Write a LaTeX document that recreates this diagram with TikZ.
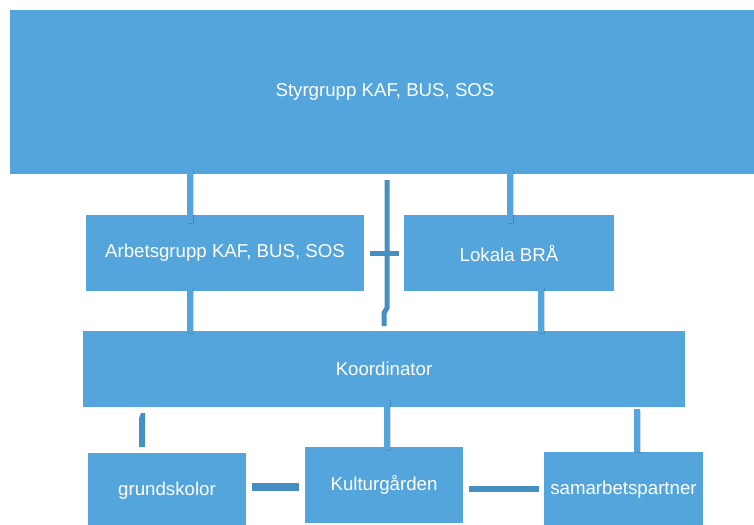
\documentclass[tikz,border=0pt]{standalone}
\usepackage{fontspec}
\setmainfont{Liberation Sans}
\usetikzlibrary{calc}
\definecolor{boxblue}{HTML}{53A5DC}
\definecolor{darkblue}{HTML}{468FC2}
\tikzset{
  box/.style={fill=boxblue, draw=none, text=white, font=\fontsize{14}{16}\selectfont, inner sep=0pt, align=center},
  lconn/.style={draw=boxblue, line width=4.5pt,
    preaction={draw=black, opacity=0.15, line width=4.5pt, transform canvas={shift={(1pt,-1pt)}}}},
  dconn/.style={draw=darkblue, line width=3.75pt},
}
\begin{document}
\begin{tikzpicture}[x=0.75pt,y=-0.75pt]
\useasboundingbox (0,0) rectangle (754,525);
\clip (0,0) rectangle (754,525);
% boxes
\node[box, minimum width=562.5pt, minimum height=123pt] (sty) at (385,92) {Styrgrupp KAF, BUS, SOS};
\node[box, minimum width=208.5pt, minimum height=57pt] (arb) at (225,253) {Arbetsgrupp KAF, BUS, SOS};
\node[box, minimum width=157.5pt, minimum height=57pt] (lok) at (509,253) {Lokala BRÅ};
\node[box, minimum width=451.5pt, minimum height=57pt] (koo) at (384,369) {Koordinator};
\node[box, minimum width=118.5pt, minimum height=57pt] (gru) at (167,490.5) {grundskolor};
\node[box, minimum width=118.5pt, minimum height=57pt] (kul) at (384,485) {Kulturgården};
\node[box, minimum width=119.25pt, minimum height=57pt] (sam) at (623.5,490) {samarbetspartner};
% light connectors
\draw[lconn] ($(arb.north)+(-35,-45)$) -- ($(arb.north)+(-35,8)$);
\draw[lconn] ($(lok.north)+(1,-45)$) -- ($(lok.north)+(1,8)$);
\draw[lconn] ($(arb.south)+(-35,-5)$) -- ($(koo.north)+(-194,2)$);
\draw[lconn] ($(lok.south)+(32,-5)$) -- ($(koo.north)+(157,2)$);
\draw[lconn] ($(koo.south)+(3,-9)$) -- ($(kul.north)+(3,3)$);
\draw[lconn] ($(koo.south)+(253,2)$) -- ($(sam.north)+(13.5,0)$);
% dark connectors
\coordinate (dtop) at (387,180);
\coordinate (dbend1) at (387,308);
\coordinate (dbend2) at (384,313);
\coordinate (dbot) at (384,326);
\draw[dconn] (dtop) -- (dbend1) -- (dbend2) -- (dbot);
\draw[dconn] ($(arb.east)+(6,0)$) -- ($(lok.west)+(-5,0)$);
\fill[darkblue] ($(gru.north)+(-28,-5)$) -- ++(0,-29) -- ++(2,-5) -- ++(4,0) -- ++(0,34) -- cycle;
\draw[draw=darkblue, line width=6pt] ($(gru.east)+(6,-3.5)$) -- ($(kul.west)+(-6,2)$);
\draw[draw=darkblue, line width=4.5pt] ($(kul.east)+(6,4)$) -- ($(sam.west)+(-5,-1)$);
\end{tikzpicture}
\end{document}
